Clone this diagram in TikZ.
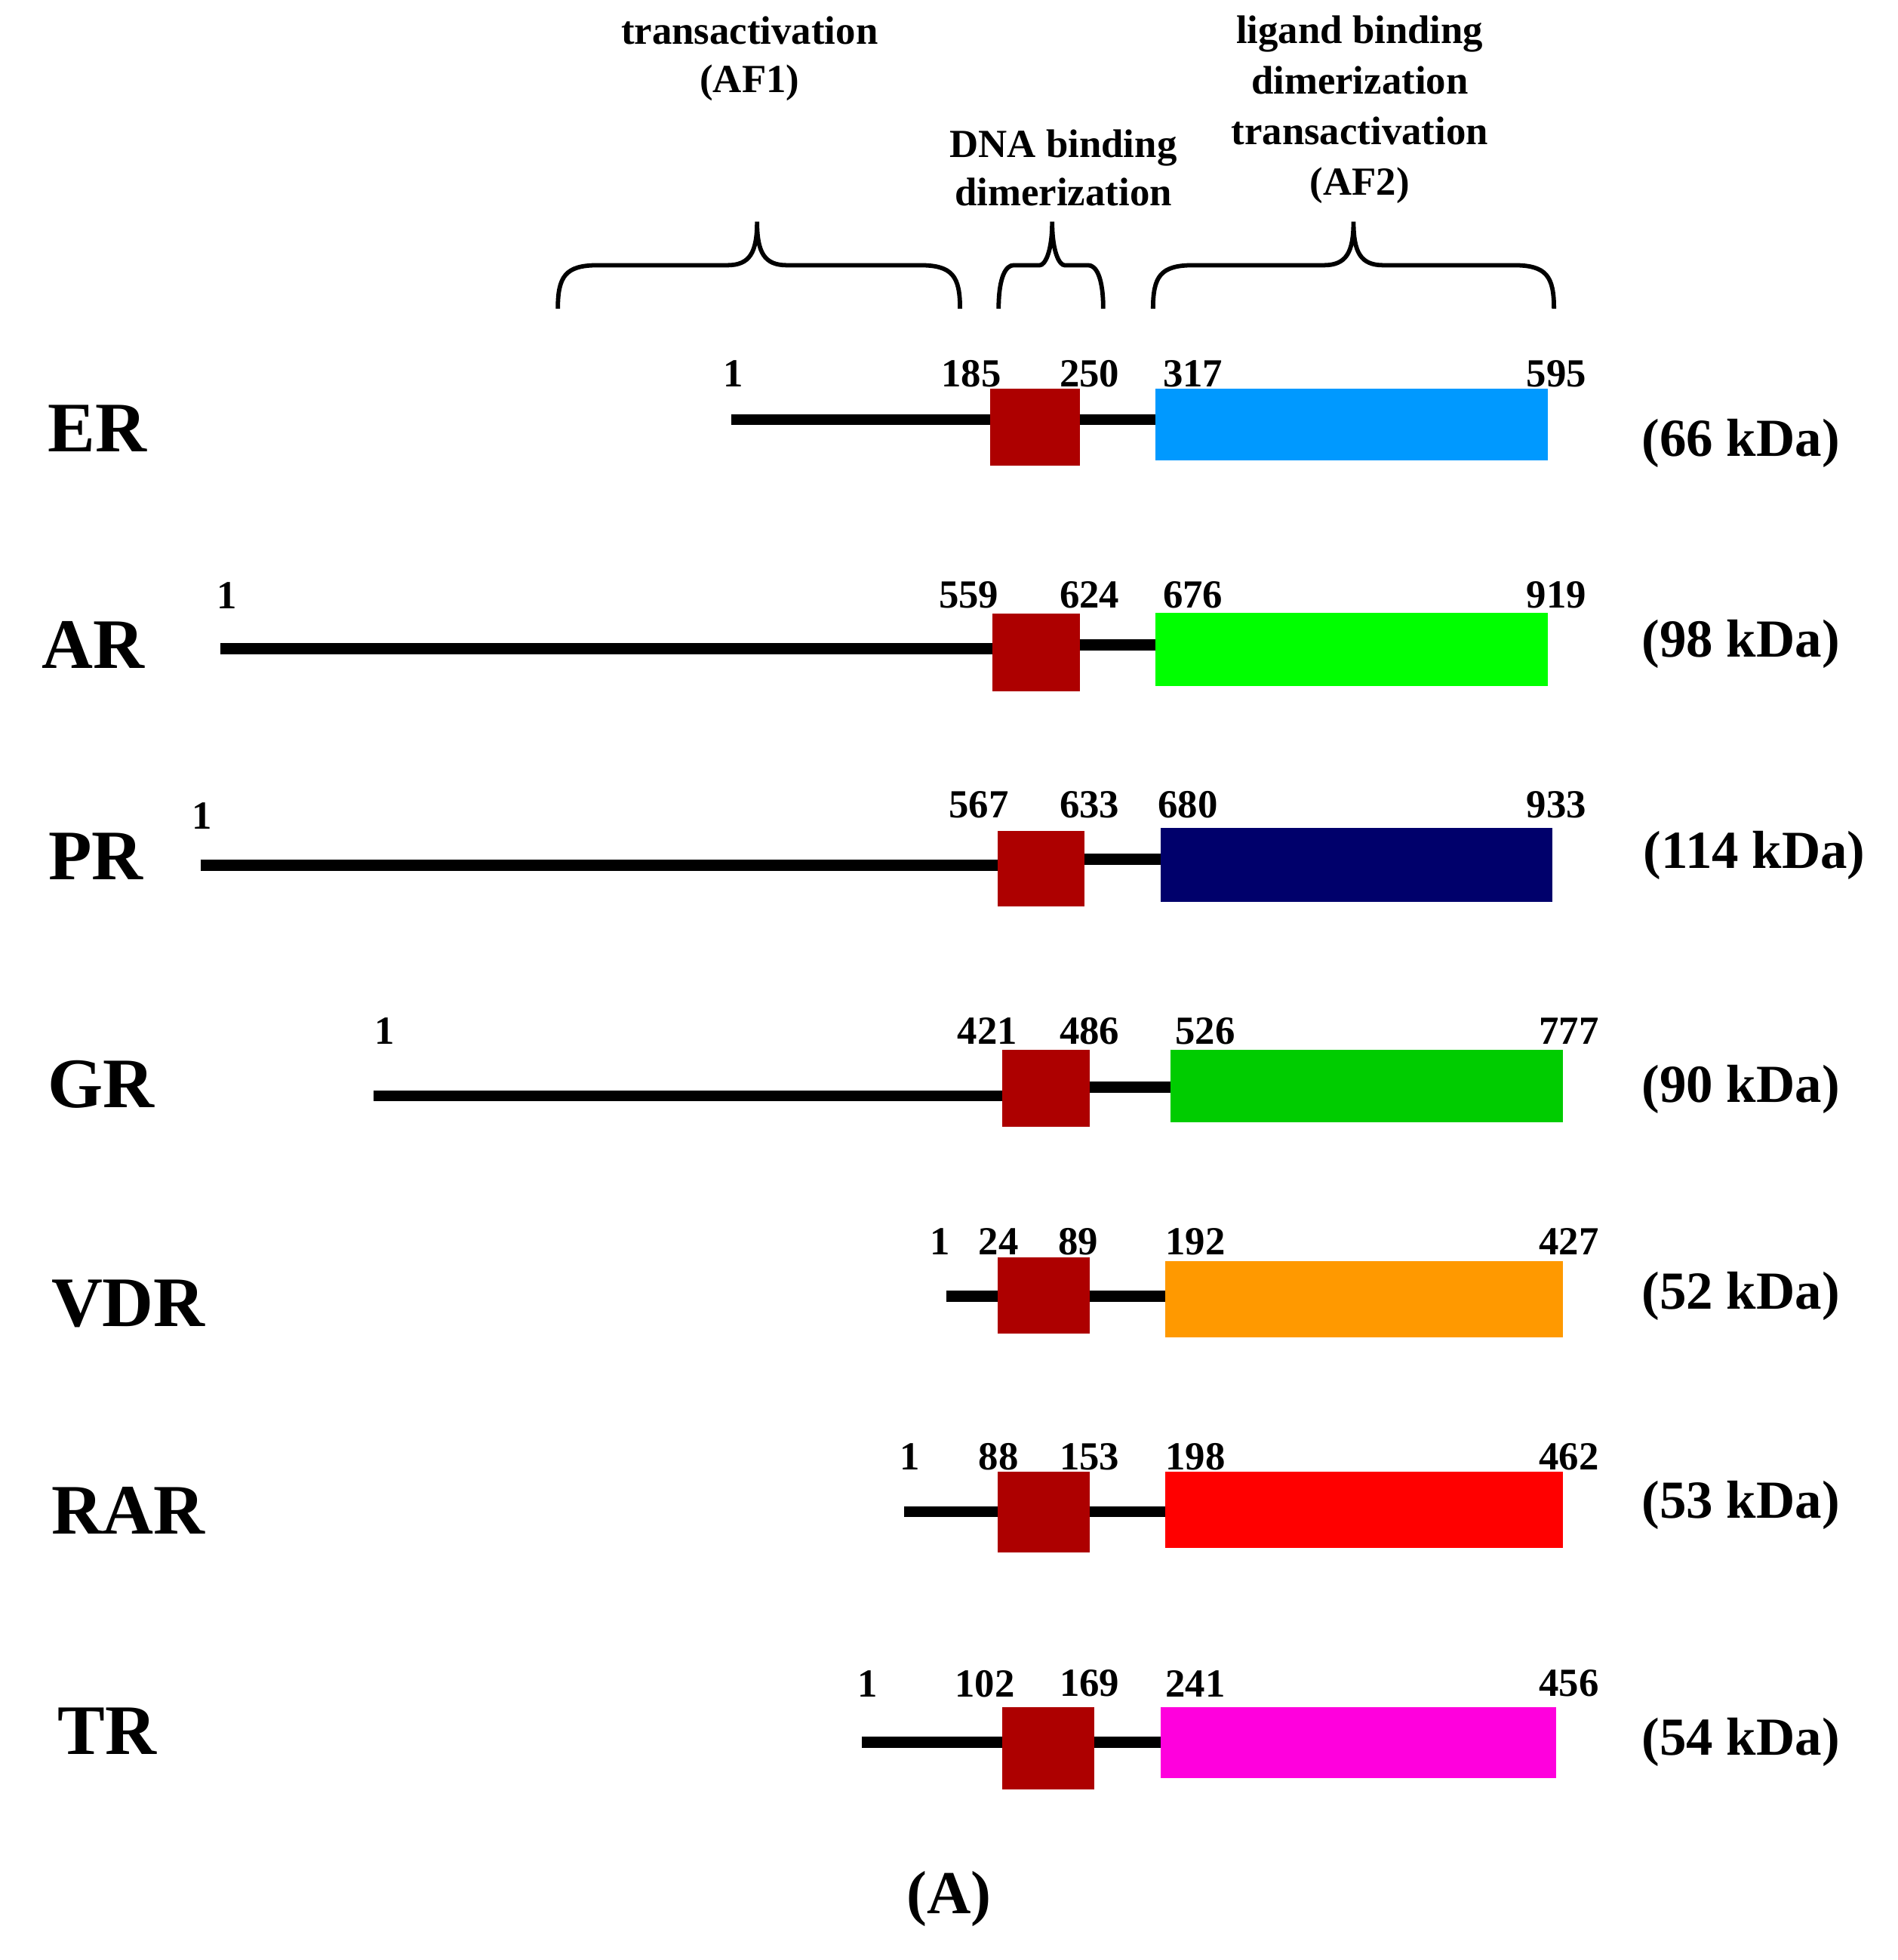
\documentclass[tikz,border=0pt]{standalone}
\usepackage{fontspec}
\setmainfont{Liberation Serif}
\usepackage{xcolor}
\usetikzlibrary{positioning}

\definecolor{dbdred}{RGB}{173,0,0}
\definecolor{erblue}{HTML}{0099FF}
\definecolor{argreen}{HTML}{00FF00}
\definecolor{prnavy}{HTML}{00006B}
\definecolor{grgreen}{HTML}{00CC00}
\definecolor{vdrorange}{HTML}{FF9900}
\definecolor{rarred}{HTML}{FF0000}
\definecolor{trmagenta}{HTML}{FF00DD}

\tikzset{
  head/.style={font=\fontsize{32}{39}\selectfont\bfseries, align=center},
  num/.style={font=\fontsize{32}{36}\selectfont\bfseries, inner sep=0pt},
  rname/.style={font=\fontsize{57}{60}\selectfont\bfseries, inner sep=0pt},
  kda/.style={font=\fontsize{43}{46}\selectfont\bfseries, inner sep=0pt},
  box/.style={inner sep=0pt, outer sep=0pt, anchor=north west, draw=none},
  dbd/.style={box, fill=dbdred},
  chain/.style={line width=9pt, line cap=butt},
  bracket/.style={line width=3.5pt}
}

% curly brace over a domain: left end, tip, right end, corner, cusp
\newcommand{\domainbrace}[5]{%
  \draw[bracket] (#1,248) .. controls (#1,222) and (#1+6,213) .. (#1+#4,213)
    -- (#2-#5,213) .. controls (#2-6,213) and (#2,203) .. (#2,178)
    .. controls (#2,203) and (#2+6,213) .. (#2+#5,213)
    -- (#3-#4,213) .. controls (#3-6,213) and (#3,222) .. (#3,248);}

\begin{document}
\begin{tikzpicture}[x=1pt, y=-1pt]
\useasboundingbox (0,0) rectangle (1524,1574);

% domain headings
\node[head] (af1) at (602,47) {transactivation\\(AF1)};
\node[head] (dna) at (854,135) {DNA binding\\dimerization};
\node[head, font=\fontsize{32}{40.5}\selectfont\bfseries] (af2) at (1092,88)
  {ligand binding\\dimerization\\transactivation\\(AF2)};

\domainbrace{448}{608}{771}{32}{24}
\domainbrace{802}{845}{886}{12}{10}
\domainbrace{926}{1087}{1248}{32}{24}

% ER
\coordinate (er-n) at (587,337);
\coordinate (er-h) at (900,337);
\node[dbd, minimum width=72pt, minimum height=62pt] (er-dbd) at (795,312) {};
\node[box, fill=erblue, minimum width=315pt, minimum height=58pt] (er-lbd) at (928,312) {};
\draw[chain] (er-n) -- (er-dbd.west |- er-n);
\draw[chain] (er-dbd.east |- er-h) -- (er-lbd.west |- er-h);
\foreach \x/\t [count=\i] in {589/1,780/185,875/250,958/317,1250/595}
  \node[num] (er-\i) at (\x,300) {\t};
\node[rname] (er) at (78,344) {ER};
\node[kda] (er-kda) at (1398,356) {(66 kDa)};

% AR
\coordinate (ar-n) at (177,521);
\coordinate (ar-h) at (900,518);
\node[dbd, minimum width=70pt, minimum height=62pt] (ar-dbd) at (797,493) {};
\node[box, fill=argreen, minimum width=315pt, minimum height=59pt] (ar-lbd) at (928,492) {};
\draw[chain] (ar-n) -- (ar-dbd.west |- ar-n);
\draw[chain] (ar-dbd.east |- ar-h) -- (ar-lbd.west |- ar-h);
\foreach \x/\t [count=\i] in {182/1,778/559,875/624,958/676,1250/919}
  \node[num] (ar-\i) at (\x,478) {\t};
\node[rname] (ar) at (75,518) {AR};
\node[kda] (ar-kda) at (1398,517) {(98 kDa)};

% PR
\coordinate (pr-n) at (161,695);
\coordinate (pr-h) at (900,690);
\node[dbd, minimum width=70pt, minimum height=61pt] (pr-dbd) at (801,667) {};
\node[box, fill=prnavy, minimum width=315pt, minimum height=59pt] (pr-lbd) at (932,665) {};
\draw[chain] (pr-n) -- (pr-dbd.west |- pr-n);
\draw[chain] (pr-dbd.east |- pr-h) -- (pr-lbd.west |- pr-h);
\node[num] (pr-1) at (162,655) {1};
\foreach \x/\t [count=\i from 2] in {786/567,875/633,954/680,1250/933}
  \node[num] (pr-\i) at (\x,646) {\t};
\node[rname] (pr) at (77,688) {PR};
\node[kda] (pr-kda) at (1409,687) {(114 kDa)};

% GR
\coordinate (gr-n) at (300,880);
\coordinate (gr-h) at (900,873);
\node[dbd, minimum width=70pt, minimum height=62pt] (gr-dbd) at (805,843) {};
\node[box, fill=grgreen, minimum width=315pt, minimum height=58pt] (gr-lbd) at (940,843) {};
\draw[chain] (gr-n) -- (gr-dbd.west |- gr-n);
\draw[chain] (gr-dbd.east |- gr-h) -- (gr-lbd.west |- gr-h);
\foreach \x/\t [count=\i] in {309/1,793/421,875/486,968/526,1260/777}
  \node[num] (gr-\i) at (\x,828) {\t};
\node[rname] (gr) at (81,871) {GR};
\node[kda] (gr-kda) at (1398,875) {(90 kDa)};

% VDR
\coordinate (vdr-n) at (760,1041);
\coordinate (vdr-h) at (900,1041);
\node[dbd, minimum width=74pt, minimum height=61pt] (vdr-dbd) at (801,1010) {};
\node[box, fill=vdrorange, minimum width=319pt, minimum height=61pt] (vdr-lbd) at (936,1013) {};
\draw[chain] (vdr-n) -- (vdr-dbd.west |- vdr-n);
\draw[chain] (vdr-dbd.east |- vdr-h) -- (vdr-lbd.west |- vdr-h);
\foreach \x/\t [count=\i] in {755/1,802/24,866/89,960/192,1260/427}
  \node[num] (vdr-\i) at (\x,997) {\t};
\node[rname] (vdr) at (103,1047) {VDR};
\node[kda] (vdr-kda) at (1398,1041) {(52 kDa)};

% RAR
\coordinate (rar-n) at (726,1214);
\coordinate (rar-h) at (900,1214);
\node[dbd, minimum width=74pt, minimum height=65pt] (rar-dbd) at (801,1182) {};
\node[box, fill=rarred, minimum width=319pt, minimum height=61pt] (rar-lbd) at (936,1182) {};
\draw[chain] (rar-n) -- (rar-dbd.west |- rar-n);
\draw[chain] (rar-dbd.east |- rar-h) -- (rar-lbd.west |- rar-h);
\foreach \x/\t [count=\i] in {731/1,802/88,875/153,960/198,1260/462}
  \node[num] (rar-\i) at (\x,1170) {\t};
\node[rname] (rar) at (103,1213) {RAR};
\node[kda] (rar-kda) at (1398,1209) {(53 kDa)};

% TR
\coordinate (tr-n) at (692,1399);
\coordinate (tr-h) at (900,1399);
\node[dbd, minimum width=74pt, minimum height=66pt] (tr-dbd) at (805,1371) {};
\node[box, fill=trmagenta, minimum width=318pt, minimum height=57pt] (tr-lbd) at (932,1371) {};
\draw[chain] (tr-n) -- (tr-dbd.west |- tr-n);
\draw[chain] (tr-dbd.east |- tr-h) -- (tr-lbd.west |- tr-h);
\foreach \x/\t [count=\i] in {697/1,791/102,875/169,960/241,1260/456}
  \node[num] (tr-\i) at (\x,1352) {\t};
\node[rname] (tr) at (86,1390) {TR};
\node[kda] (tr-kda) at (1398,1399) {(54 kDa)};

\node[font=\fontsize{49}{52}\selectfont\bfseries] (panel) at (762,1525) {(A)};
\end{tikzpicture}
\end{document}
